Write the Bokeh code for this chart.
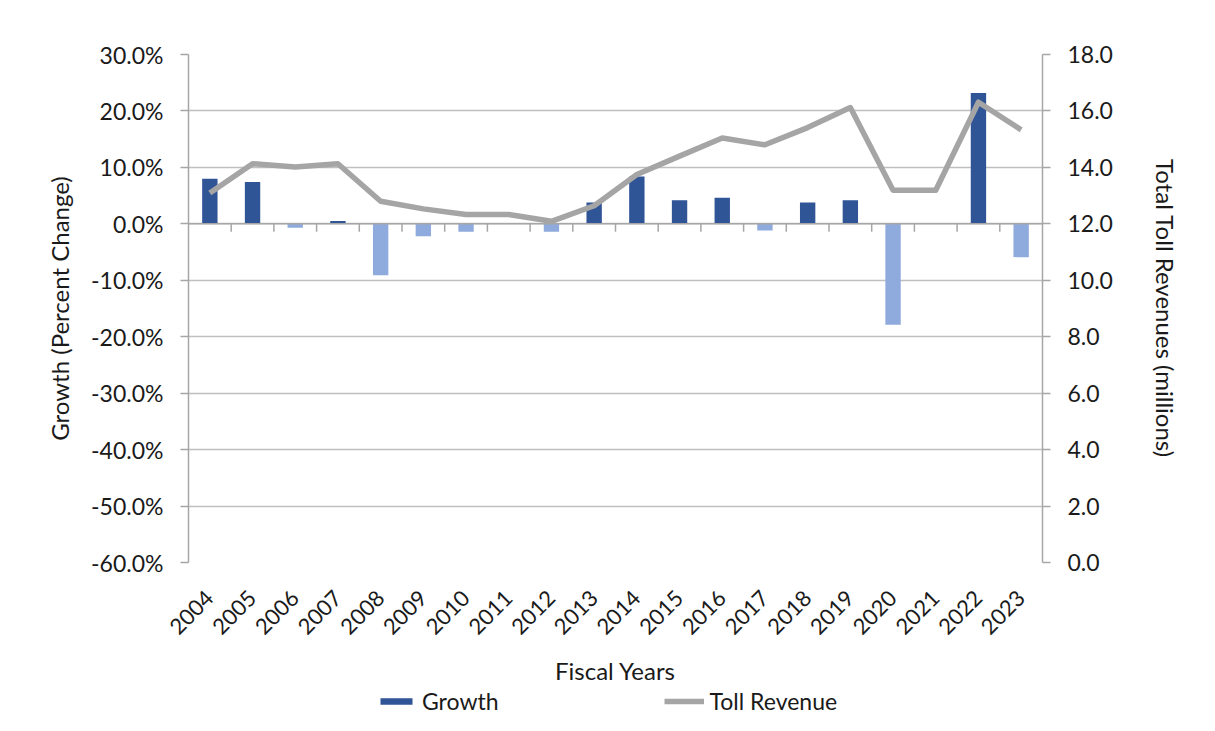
import math
from bokeh.plotting import figure
from bokeh.layouts import column
from bokeh.models import (Range1d, LinearAxis, FixedTicker, PrintfTickFormatter,
                          ColumnDataSource, Span, Legend, LegendItem)
from bokeh.embed import file_html
from bokeh.resources import INLINE

years = [str(y) for y in range(2004, 2024)]
growth_pct = [8.0, 7.4, -0.7, 0.5, -9.1, -2.2, -1.4, 0.0, -1.4, 3.8,
              8.4, 4.2, 4.6, -1.2, 3.8, 4.2, -17.9, 0.0, 23.2, -5.9]
toll_revenue = [13.09, 14.13, 14.01, 14.13, 12.80, 12.53, 12.33, 12.33, 12.09, 12.64,
                13.75, 14.40, 15.04, 14.80, 15.41, 16.12, 13.19, 13.19, 16.31, 15.33]
left_ticks = [-60, -50, -40, -30, -20, -10, 0, 10, 20, 30]
right_ticks = [0, 2, 4, 6, 8, 10, 12, 14, 16, 18]

POS = "#2F5597"
NEG = "#8FAADC"
LINE = "#A5A5A5"
AXIS = "#A6A6A6"
GRID = "#BFBFBF"
TXT = "#1a1a1a"
FONT = "Lato"

n = len(years)
xs = [i + 0.5 for i in range(n)]
src = ColumnDataSource(dict(
    x=xs, year=years, growth=growth_pct, rev=toll_revenue,
    color=[POS if v >= 0 else NEG for v in growth_pct],
))

p = figure(width=1199, height=688, output_backend="svg", toolbar_location=None,
           x_range=Range1d(0, n), y_range=Range1d(left_ticks[0], left_ticks[-1]),
           min_border_left=188, min_border_right=157, min_border_top=54,
           min_border_bottom=121)
p.outline_line_color = None
p.background_fill_color = "white"
p.border_fill_color = "white"

p.extra_y_ranges = {"rev": Range1d(right_ticks[0], right_ticks[-1])}

bars = p.vbar(x="x", top="growth", bottom=0, width=0.36, fill_color="color",
              line_color=None, source=src)
ln = p.line(x="x", y="rev", y_range_name="rev", line_color=LINE, line_width=5.5,
            source=src, line_join="round")

# horizontal category axis crossing at zero
p.add_layout(Span(location=0, dimension="width", line_color=AXIS, line_width=1.5))
bx = list(range(1, n))
p.segment(x0=bx, y0=[0] * len(bx), x1=bx, y1=[-1.4] * len(bx),
          line_color=AXIS, line_width=1.5)

p.xgrid.visible = False
p.ygrid.ticker = FixedTicker(ticks=left_ticks)
p.ygrid.grid_line_color = GRID
p.ygrid.grid_line_width = 1.5


def style_axis(ax, title, standoff):
    ax.axis_line_color = AXIS
    ax.axis_line_width = 1.5
    ax.major_tick_line_color = AXIS
    ax.major_tick_line_width = 1.5
    ax.major_tick_out = 8
    ax.major_tick_in = 0
    ax.minor_tick_line_color = None
    ax.major_label_standoff = 17
    ax.major_label_text_font = FONT
    ax.major_label_text_font_size = "23px"
    ax.major_label_text_color = TXT
    ax.axis_label = title
    ax.axis_label_text_font = FONT
    ax.axis_label_text_font_size = "24px"
    ax.axis_label_text_font_style = "normal"
    ax.axis_label_text_color = TXT
    ax.axis_label_standoff = standoff


ya = p.yaxis[0]
ya.ticker = FixedTicker(ticks=left_ticks)
ya.formatter = PrintfTickFormatter(format="%.1f%%")
style_axis(ya, "Growth (Percent Change)", 14)

ra = LinearAxis(y_range_name="rev", ticker=FixedTicker(ticks=right_ticks),
                formatter=PrintfTickFormatter(format="%.1f"))
style_axis(ra, "Total Toll Revenues (millions)", 35)
p.add_layout(ra, "right")

xa = p.xaxis[0]
xa.ticker = FixedTicker(ticks=xs)
xa.major_label_overrides = {x: y for x, y in zip(xs, years)}
xa.major_label_orientation = math.pi / 4
xa.axis_line_color = None
xa.major_tick_line_color = None
xa.minor_tick_line_color = None
xa.major_label_standoff = 26
xa.major_label_text_font = FONT
xa.major_label_text_font_size = "22px"
xa.major_label_text_color = TXT
xa.axis_label = "Fiscal Years"
xa.axis_label_text_font = FONT
xa.axis_label_text_font_size = "24px"
xa.axis_label_text_font_style = "normal"
xa.axis_label_text_color = TXT
xa.axis_label_standoff = 12

# legend strip below the chart (frame aligns with the chart's frame)
lg = figure(width=1199, height=27, output_backend="svg", toolbar_location=None,
            x_range=Range1d(0, 1), y_range=Range1d(0, 1), min_border=0)
lg.outline_line_color = None
lg.axis.visible = False
lg.grid.visible = False
# zero-size proxy glyphs: only their legend swatches are visible
r1 = lg.vbar(x=[0.5], top=[0], bottom=0, width=0, fill_color=POS, line_color=None)
r2 = lg.line(x=[0.5, 0.5], y=[0.5, 0.5], line_color=LINE, line_width=5.5)
legend = Legend(items=[LegendItem(label="Growth", renderers=[r1]),
                       LegendItem(label="Toll Revenue", renderers=[r2])],
                orientation="horizontal", location=(188, 0),
                label_text_font=FONT, label_text_font_size="23px",
                label_text_color=TXT, glyph_width=40, glyph_height=8,
                label_height=20, spacing=165, padding=0, margin=0,
                border_line_color=None, background_fill_alpha=0,
                label_standoff=6)
lg.add_layout(legend, "center")

layout = column(p, lg, spacing=0)
open("out.html", "w").write(file_html(layout, INLINE))
